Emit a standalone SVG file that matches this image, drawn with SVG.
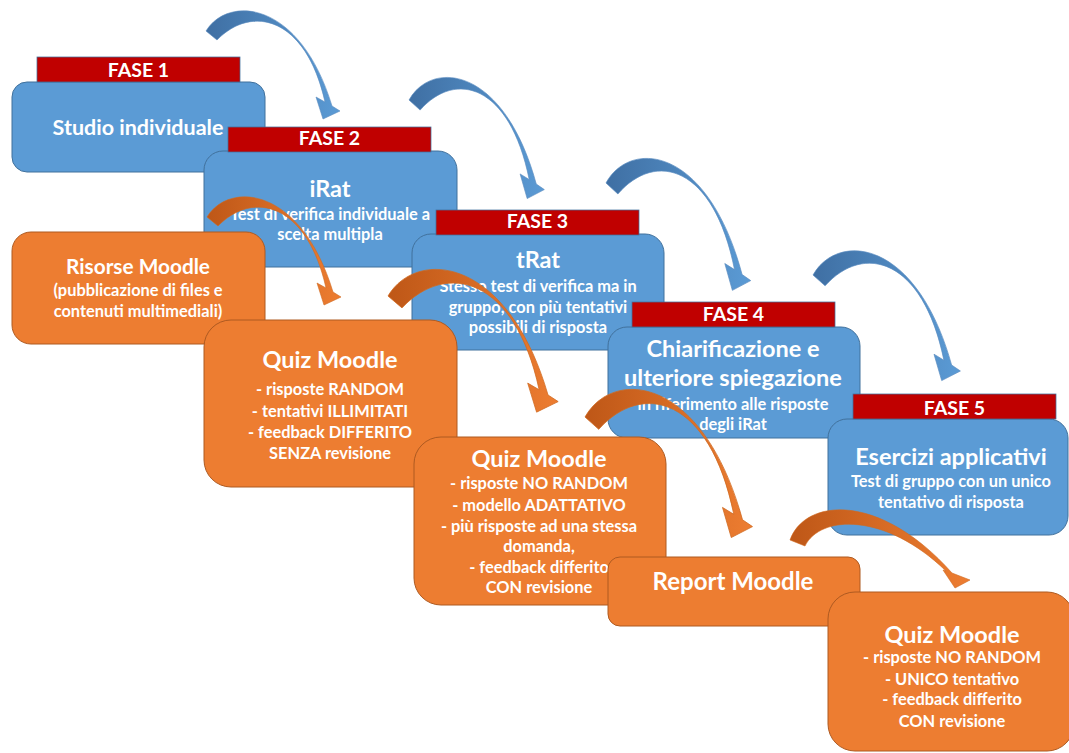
<svg xmlns="http://www.w3.org/2000/svg" width="1069" height="753" viewBox="0 0 1069 753">
<defs>
<style>
.bb{fill:#5B9BD5;stroke:#41719C;stroke-width:1}
.ob{fill:#ED7D31;stroke:#AE5A21;stroke-width:1}
.bar{fill:#C00000;stroke:#41719C;stroke-width:0.75}
.t{font-family:Lato,"Liberation Sans",sans-serif;font-weight:700;fill:#FFFFFF;text-anchor:middle}
.h{font-size:23.5px}
.f{font-size:19.5px}
.s{font-size:16.4px}
.r{font-size:20.8px}
.ba{fill:url(#gb);stroke:#5B8CC0;stroke-width:0.6}
.oa{fill:url(#go);stroke:#D06A20;stroke-width:0.6}
</style>
<linearGradient id="gb" x1="0" y1="0" x2="1" y2="0">
<stop offset="0" stop-color="#3F6FA3"/>
<stop offset="1" stop-color="#5B9BD5"/>
</linearGradient>
<linearGradient id="go" x1="0" y1="0" x2="1" y2="0">
<stop offset="0" stop-color="#BE5717"/>
<stop offset="1" stop-color="#ED7D31"/>
</linearGradient>
<path id="arr" d="M0,0 C22,-36 94,-31 126,75 L134,80 L117,88 L110,66 L119,71 C100,-14 46,-27 11,9 Z"/>
</defs>

<g id="fase1">
<rect class="bb" x="12" y="82" width="253" height="90" rx="15"/>
<rect class="bar" x="37" y="57" width="203" height="25"/>
<text class="t f" x="138.5" y="77">FASE 1</text>
<text class="t" style="font-size:21.5px" x="138" y="135">Studio individuale</text>
</g>

<g id="fase2">
<rect class="bb" x="204" y="151" width="253" height="116" rx="19"/>
<rect class="bar" x="228" y="127" width="203" height="25"/>
<text class="t f" x="329.5" y="145">FASE 2</text>
<text class="t h" x="330" y="197">iRat</text>
<text class="t s" x="330" y="220">Test di verifica individuale a</text>
<text class="t s" x="330" y="240">scelta multipla</text>
</g>

<g id="fase3">
<rect class="bb" x="412" y="234" width="252" height="116" rx="19"/>
<rect class="bar" x="436" y="210" width="203" height="25"/>
<text class="t f" x="537.5" y="228">FASE 3</text>
<text class="t h" x="538" y="268">tRat</text>
<text class="t s" x="538" y="292">Stesso test di verifica ma in</text>
<text class="t s" x="538" y="313">gruppo, con più tentativi</text>
<text class="t s" x="538" y="333">possibili di risposta</text>
</g>

<g id="fase4">
<rect class="bb" x="608" y="327" width="252" height="111" rx="19"/>
<rect class="bar" x="632" y="302" width="203" height="25"/>
<text class="t f" x="733.5" y="321">FASE 4</text>
<text class="t h" x="733" y="357">Chiarificazione e</text>
<text class="t h" x="733" y="386">ulteriore spiegazione</text>
<text class="t s" x="733" y="410">in riferimento alle risposte</text>
<text class="t s" x="733" y="430">degli iRat</text>
</g>

<g id="fase5">
<rect class="bb" x="828" y="419" width="240" height="116" rx="19"/>
<rect class="bar" x="853" y="394" width="203" height="25"/>
<text class="t f" x="954.5" y="415">FASE 5</text>
<text class="t h" x="951" y="465">Esercizi applicativi</text>
<text class="t s" x="951" y="487">Test di gruppo con un unico</text>
<text class="t s" x="951" y="508">tentativo di risposta</text>
</g>

<g id="risorse">
<rect class="ob" x="12" y="232" width="253" height="112" rx="19"/>
<text class="t r" x="138" y="274">Risorse Moodle</text>
<text class="t s" x="138" y="296">(pubblicazione di files e</text>
<text class="t s" x="138" y="317">contenuti multimediali)</text>
</g>

<g id="quiz1">
<rect class="ob" x="204" y="320" width="253" height="167" rx="27"/>
<text class="t h" x="330" y="368">Quiz Moodle</text>
<text class="t s" x="330" y="395">-  risposte RANDOM</text>
<text class="t s" x="330" y="417">- tentativi ILLIMITATI</text>
<text class="t s" x="330" y="438">- feedback DIFFERITO</text>
<text class="t s" x="330" y="459">SENZA revisione</text>
</g>

<g id="quiz2">
<rect class="ob" x="414" y="437" width="252" height="168" rx="27"/>
<text class="t h" x="539" y="467">Quiz Moodle</text>
<text class="t s" x="539" y="489">- risposte NO RANDOM</text>
<text class="t s" x="539" y="511">- modello ADATTATIVO</text>
<text class="t s" x="539" y="532">- più risposte ad una stessa</text>
<text class="t s" x="539" y="552">domanda,</text>
<text class="t s" x="539" y="573">- feedback differito</text>
<text class="t s" x="539" y="593">CON revisione</text>
</g>

<g id="report">
<rect class="ob" x="608" y="557" width="252" height="69" rx="12"/>
<text class="t" style="font-size:24px" x="733" y="590">Report Moodle</text>
</g>

<g id="quiz3">
<rect class="ob" x="828" y="592" width="246" height="159" rx="27"/>
<text class="t h" x="952" y="643">Quiz Moodle</text>
<text class="t s" x="952" y="663">- risposte NO RANDOM</text>
<text class="t s" x="952" y="685">- UNICO tentativo</text>
<text class="t s" x="952" y="705">- feedback differito</text>
<text class="t s" x="952" y="727">CON revisione</text>
</g>

<g id="connectors">
<use href="#arr" class="oa" transform="translate(207,217)"/>
<use href="#arr" class="oa" transform="translate(388,296) scale(1.27,1.32)"/>
<use href="#arr" class="oa" transform="translate(585,417) scale(1.25,1.37)"/>
<path class="oa" d="M790,540 C805,498 880,492 952,573 L970,580 L955,588 L943,570 L946,571 C885,512 820,515 805,546 Z"/>
<use href="#arr" class="ba" transform="translate(206,31)"/>
<use href="#arr" class="ba" transform="translate(409,100) scale(1.01,1.12)"/>
<use href="#arr" class="ba" transform="translate(606,183) scale(1.08,1.22)"/>
<use href="#arr" class="ba" transform="translate(813,275) scale(1.1,1.2)"/>
</g>
</svg>
